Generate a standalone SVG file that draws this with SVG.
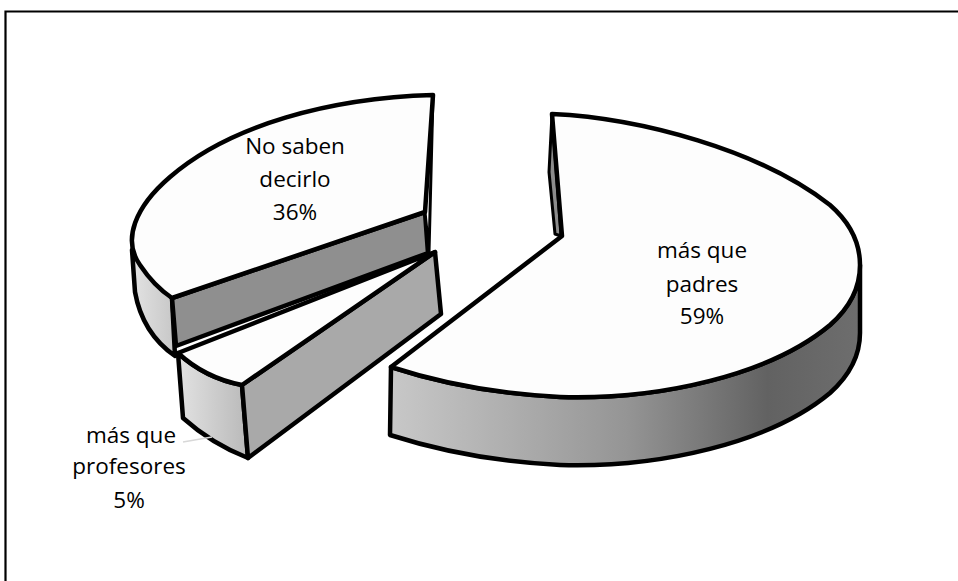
<svg xmlns="http://www.w3.org/2000/svg" width="958" height="581" viewBox="0 0 958 581">
<defs>
<style>
.edge{stroke:#000;stroke-width:4.5;stroke-linejoin:round;stroke-linecap:round}
.thin{stroke:#000;stroke-width:3;stroke-linejoin:round}
.top{fill:#fdfdfd}
.lbl{font-family:"Open Sans","Liberation Sans",sans-serif;font-size:22.5px;fill:#000;text-anchor:middle}
</style>
<linearGradient id="gBig" x1="390" y1="0" x2="862" y2="0" gradientUnits="userSpaceOnUse">
<stop offset="0" stop-color="#c8c8c8"/>
<stop offset="0.5" stop-color="#959595"/>
<stop offset="0.8" stop-color="#626262"/>
<stop offset="1" stop-color="#6e6e6e"/>
</linearGradient>
<linearGradient id="gMid" x1="130" y1="0" x2="176" y2="0" gradientUnits="userSpaceOnUse">
<stop offset="0" stop-color="#e4e4e4"/>
<stop offset="1" stop-color="#c6c6c6"/>
</linearGradient>
<linearGradient id="gSmall" x1="178" y1="0" x2="248" y2="0" gradientUnits="userSpaceOnUse">
<stop offset="0" stop-color="#e2e2e2"/>
<stop offset="1" stop-color="#b9b9b9"/>
</linearGradient>
</defs>
<rect width="958" height="581" fill="#fff"/>
<path d="M5.5,581 L5.5,11.5 L958,11.5" fill="none" stroke="#000" stroke-width="2.2"/>

<g id="slice-no-saben">
<path class="edge" fill="url(#gMid)" d="M132,250 L135,292 C140,320 155,342 175,356 L172,298 Z"/>
<path class="edge" fill="#8f8f8f" d="M172,298 L425,212 L428,253 L176,346 Z"/>
<path class="thin" fill="#fff" d="M433,95 L425,212 L429,252 Z"/>
<path class="edge top" d="M433,95 C330,98 230,125 170,177 C135,207 122,240 140,265 C150,280 160,290 172,298 L425,212 Z"/>
<text class="lbl" x="295" y="154">No saben</text>
<text class="lbl" x="295" y="187">decirlo</text>
<text class="lbl" x="295" y="220">36%</text>
</g>

<g id="slice-profesores">
<path class="edge" fill="url(#gSmall)" d="M178,353 Q205,378 242,385 L248,458 Q212,444 183,418 Z"/>
<path class="edge" fill="#a9a9a9" d="M242,385 L435,252 L441,314 L248,458 Z"/>
<path class="edge top" d="M178,353 L435,252 L242,385 Q205,378 178,353 Z"/>
</g>

<g id="slice-padres">
<path class="thin" fill="#8c8c8c" d="M552,114 L549,172 L555,234 L561,236 Z"/>
<path class="edge" fill="url(#gBig)" d="M860,265 C860,286 850,307 830,325 C770,375 660,400 560,397 C500,394 440,383 391,367 L390,435 C440,451 500,462 560,465 C660,468 770,443 830,393 C850,375 860,354 860,333 Z"/>
<path class="edge top" d="M562,236 L552,114 C640,118 760,150 830,205 C870,240 870,290 830,325 C770,375 660,400 560,397 C500,394 440,383 391,367 Z"/>
<text class="lbl" x="702" y="258">más que</text>
<text class="lbl" x="702" y="292">padres</text>
<text class="lbl" x="702" y="324">59%</text>
</g>

<g id="connectors">
<path d="M183,442 L212,437" fill="none" stroke="#d8d8d8" stroke-width="1.5"/>
</g>

<g id="label-profesores">
<text class="lbl" x="131" y="443">más que</text>
<text class="lbl" x="129" y="474">profesores</text>
<text class="lbl" x="129" y="508">5%</text>
</g>
</svg>
